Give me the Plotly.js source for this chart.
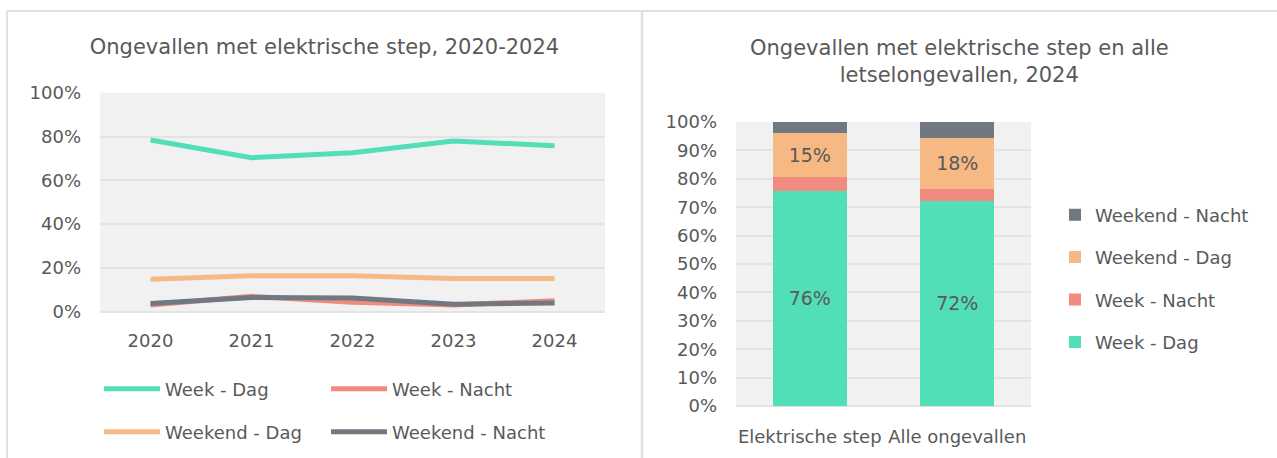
<!DOCTYPE html>
<html><head><meta charset="utf-8">
<script src="https://cdn.plot.ly/plotly-3.0.1.min.js"></script>
<style>html,body{margin:0;padding:0;background:#fff;}#chart{width:1277px;height:458px;}</style>
</head><body><div id="chart"></div>
<script>
const years = ['2020', '2021', '2022', '2023', '2024'];
const weekDag = [78.4, 70.3, 72.6, 77.9, 75.8];
const weekNacht = [3.1, 7.0, 4.3, 3.1, 5.0];
const weekendDag = [14.8, 16.4, 16.4, 15.2, 15.2];
const weekendNacht = [3.8, 6.5, 6.3, 3.4, 4.0];

const barCategories = ['Elektrische step', 'Alle ongevallen'];
const barWeekDag = [75.8, 72.2];
const barWeekNacht = [5.0, 4.3];
const barWeekendDag = [15.2, 17.9];
const barWeekendNacht = [4.0, 5.6];

const seriesNames = ['Week - Dag', 'Week - Nacht', 'Weekend - Dag', 'Weekend - Nacht'];
const leftTitle = 'Ongevallen met elektrische step, 2020-2024';
const rightTitle = 'Ongevallen met elektrische step en alle<br>letselongevallen, 2024';

const colors = ['#52dfb8', '#f08b7f', '#f6b983', '#707981'];
const W = 1277, H = 458;
const px = v => v / W;
const py = v => 1 - v / H;
const FONT = "'DejaVu Sans', Verdana, sans-serif";
const TXT = '#595959';

const lineSeries = [weekDag, weekNacht, weekendDag, weekendNacht];
const barSeries = [barWeekDag, barWeekNacht, barWeekendDag, barWeekendNacht];
const lineLegends = ['legend', 'legend', 'legend2', 'legend2'];
const labelled = [true, false, true, false];

const traces = [];
lineSeries.forEach((vals, i) => {
  traces.push({
    type: 'scatter', mode: 'lines', x: years, y: vals, name: seriesNames[i],
    line: {color: colors[i], width: 5}, xaxis: 'x', yaxis: 'y',
    legend: lineLegends[i], hoverinfo: 'skip'
  });
});
barSeries.forEach((vals, i) => {
  traces.push({
    type: 'bar', x: barCategories, y: vals, name: seriesNames[i],
    marker: {color: colors[i]}, xaxis: 'x2', yaxis: 'y2',
    legend: 'legend3', legendgroup: 'g' + i, legendrank: 10 - i,
    texttemplate: labelled[i] ? '%{y:.0f}%' : '',
    textposition: 'inside', insidetextanchor: 'middle',
    textfont: {family: FONT, size: 19, color: TXT},
    constraintext: 'none', hoverinfo: 'skip'
  });
});

const axisFont = {family: FONT, size: 18, color: TXT};
const layout = {
  width: W, height: H,
  margin: {l: 0, r: 0, t: 0, b: 0},
  paper_bgcolor: '#ffffff', plot_bgcolor: '#f1f1f1',
  font: {family: FONT, size: 18, color: TXT},
  showlegend: true,
  barmode: 'stack', bargap: 0.5,
  title: {text: leftTitle, x: px(324.5), xanchor: 'center', y: py(47), yanchor: 'middle',
          font: {family: FONT, size: 21, color: TXT}},
  xaxis: {domain: [px(100), px(605)], type: 'category', range: [-0.5, 4.5],
          showgrid: false, zeroline: false, showline: false, ticks: '',
          tickfont: axisFont, ticklabelstandoff: 16, fixedrange: true},
  yaxis: {domain: [py(311.7), py(92.7)], range: [0, 100], dtick: 20, ticksuffix: '%',
          showgrid: true, gridcolor: '#e3e3e3', gridwidth: 1.5, zeroline: true,
          zerolinecolor: '#e3e3e3', zerolinewidth: 1.5, showline: false, ticks: '',
          tickfont: axisFont, ticklabelstandoff: 18, fixedrange: true},
  xaxis2: {domain: [px(736), px(1031)], type: 'category', anchor: 'y2',
           showgrid: false, zeroline: false, showline: false, ticks: '',
           tickfont: axisFont, ticklabelstandoff: 18, fixedrange: true},
  yaxis2: {domain: [py(406), py(122)], anchor: 'x2', range: [0, 100], dtick: 10, ticksuffix: '%',
           showgrid: true, gridcolor: '#e3e3e3', gridwidth: 1.5, zeroline: true,
           zerolinecolor: '#e3e3e3', zerolinewidth: 1.5, showline: false, ticks: '',
           tickfont: axisFont, ticklabelstandoff: 18, fixedrange: true},
  legend: {orientation: 'h', x: px(99), xanchor: 'left', y: py(389), yanchor: 'middle',
           entrywidth: 156, entrywidthmode: 'pixels', itemwidth: 56,
           font: axisFont, bgcolor: 'rgba(0,0,0,0)', itemclick: false, itemdoubleclick: false},
  legend2: {orientation: 'h', x: px(99), xanchor: 'left', y: py(432), yanchor: 'middle',
            entrywidth: 156, entrywidthmode: 'pixels', itemwidth: 56,
            font: axisFont, bgcolor: 'rgba(0,0,0,0)', itemclick: false, itemdoubleclick: false},
  legend3: {orientation: 'v', x: px(1055), xanchor: 'left', y: py(278.5), yanchor: 'middle',
            traceorder: 'grouped', tracegroupgap: 16,
            font: axisFont, bgcolor: 'rgba(0,0,0,0)', itemclick: false, itemdoubleclick: false},
  annotations: [{
    text: rightTitle, x: px(959.5), y: py(61.5), xref: 'paper', yref: 'paper',
    xanchor: 'center', yanchor: 'middle', showarrow: false, align: 'center',
    font: {family: FONT, size: 21, color: TXT}
  }],
  shapes: [
    {type: 'line', xref: 'paper', yref: 'paper', x0: px(7), x1: 1, y0: py(11), y1: py(11),
     line: {color: '#e0e0e0', width: 2}},
    {type: 'line', xref: 'paper', yref: 'paper', x0: px(7), x1: px(7), y0: 0, y1: py(11),
     line: {color: '#e0e0e0', width: 2}},
    {type: 'line', xref: 'paper', yref: 'paper', x0: px(642), x1: px(642), y0: 0, y1: py(11),
     line: {color: '#e0e0e0', width: 2.5}}
  ]
};

Plotly.newPlot('chart', traces, layout, {displayModeBar: false, staticPlot: false, responsive: false});
</script>
</body></html>
